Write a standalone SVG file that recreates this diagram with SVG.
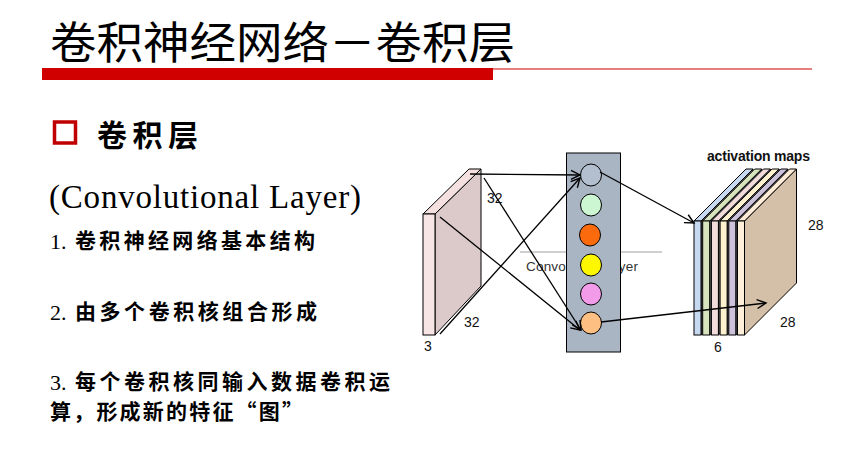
<svg xmlns="http://www.w3.org/2000/svg" width="847" height="456" viewBox="0 0 847 456">
<defs>
<style>
.cjk{font-family:"Noto Sans CJK SC","Noto Sans",sans-serif;}
.ser{font-family:"Liberation Serif","Noto Sans CJK SC",serif;}
.pt{font-family:"Noto Sans CJK SC","Noto Sans",sans-serif;font-size:21px;font-weight:bold;fill:#000;}
.num{font-family:"Liberation Serif",serif;font-size:22px;fill:#000;}
.lbl{font-family:"Liberation Sans",Arial,sans-serif;font-size:14px;fill:#111;}
.ed{stroke:#000;stroke-width:1;}
.cn{fill:none;stroke:#000;stroke-width:1.3;}
</style>
<marker id="ah" markerWidth="12" markerHeight="12" refX="10" refY="5" orient="auto" markerUnits="userSpaceOnUse" viewBox="0 0 12 10">
<path d="M1,0.5 L10,5 L1,9.5" fill="none" stroke="#000" stroke-width="1.4"/>
</marker>
</defs>
<rect width="847" height="456" fill="#fff"/>

<g id="title">
<text class="cjk" x="50" y="59" font-size="44" textLength="465" lengthAdjust="spacingAndGlyphs" fill="#000">卷积神经网络－卷积层</text>
<rect x="42" y="68" width="451" height="12" fill="#d10000"/>
<line x1="493" y1="69" x2="812" y2="69" stroke="#d10000" stroke-width="1.2"/>
</g>

<g id="heading">
<rect x="54.5" y="122" width="21" height="21" fill="none" stroke="#c00000" stroke-width="3.5"/>
<text class="cjk" x="97" y="146" font-size="30" font-weight="bold" textLength="101" fill="#000">卷积层</text>
<text class="ser" x="49" y="208" font-size="33" textLength="312" fill="#000">(Convolutional Layer)</text>
</g>

<g id="points">
<text class="num" x="50" y="249">1.</text>
<text class="pt" x="75" y="248" textLength="240">卷积神经网络基本结构</text>
<text class="num" x="50" y="320">2.</text>
<text class="pt" x="75" y="319" textLength="242">由多个卷积核组合形成</text>
<text class="num" x="50" y="390">3.</text>
<text class="pt" x="75" y="389" textLength="315">每个卷积核同输入数据卷积运</text>
<text class="pt" x="50" y="419" textLength="253">算，形成新的特征“图”</text>
</g>

<g id="input-volume">
<polygon class="ed" points="435,214 481,169 481,286 435,335" fill="#dccaca"/>
<polygon class="ed" points="423,214 435,214 481,169 469,169" fill="#f5e0e0"/>
<rect class="ed" x="423" y="214" width="12" height="121" fill="#f7e4e4"/>
<text class="lbl" x="487" y="203">32</text>
<text class="lbl" x="464" y="327">32</text>
<text class="lbl" x="424" y="351">3</text>
</g>

<g id="conv-layer">
<line x1="520" y1="252" x2="662" y2="252" stroke="#a0a0a0" stroke-width="1"/>
<text x="526" y="271" font-family="Liberation Sans,Arial,sans-serif" font-size="13.5" textLength="112" fill="#333">Convolution Layer</text>
<rect class="ed" x="566.5" y="153" width="54" height="199" fill="#a9b5c3"/>
<ellipse class="ed" cx="591" cy="175" rx="10.5" ry="11" fill="#b3bfce"/>
<ellipse class="ed" cx="591" cy="205" rx="10.5" ry="11" fill="#ccf5d2"/>
<ellipse class="ed" cx="590" cy="235" rx="10.5" ry="11" fill="#fb6a0c"/>
<ellipse class="ed" cx="591" cy="265" rx="10.5" ry="11" fill="#fdf700"/>
<ellipse class="ed" cx="591" cy="294" rx="10.5" ry="11" fill="#f29be9"/>
<ellipse class="ed" cx="591" cy="323" rx="10.5" ry="11" fill="#fdbf82"/>
</g>

<g id="activation-maps">
<text x="707" y="161" font-family="Liberation Sans,Arial,sans-serif" font-size="14" font-weight="bold" textLength="103" fill="#111">activation maps</text>
<g>
<polygon class="ed" points="701,221 753,169 753,283 701,335" fill="#666"/>
<polygon class="ed" points="694,221 701,221 753,169 746,169" fill="#c6d9f1"/>
<rect class="ed" x="694" y="221" width="7" height="114" fill="#c6d9f1"/>
</g>
<g>
<polygon class="ed" points="709.7,221 761.7,169 761.7,283 709.7,335" fill="#666"/>
<polygon class="ed" points="702.7,221 709.7,221 761.7,169 754.7,169" fill="#d7e4bd"/>
<rect class="ed" x="702.7" y="221" width="7" height="114" fill="#d7e4bd"/>
</g>
<g>
<polygon class="ed" points="718.4,221 770.4,169 770.4,283 718.4,335" fill="#666"/>
<polygon class="ed" points="711.4,221 718.4,221 770.4,169 763.4,169" fill="#f2dcdb"/>
<rect class="ed" x="711.4" y="221" width="7" height="114" fill="#f2dcdb"/>
</g>
<g>
<polygon class="ed" points="727.1,221 779.1,169 779.1,283 727.1,335" fill="#666"/>
<polygon class="ed" points="720.1,221 727.1,221 779.1,169 772.1,169" fill="#fdf1cf"/>
<rect class="ed" x="720.1" y="221" width="7" height="114" fill="#fdf1cf"/>
</g>
<g>
<polygon class="ed" points="735.8,221 787.8,169 787.8,283 735.8,335" fill="#666"/>
<polygon class="ed" points="728.8,221 735.8,221 787.8,169 780.8,169" fill="#cdc2dc"/>
<rect class="ed" x="728.8" y="221" width="7" height="114" fill="#cdc2dc"/>
</g>
<g>
<polygon class="ed" points="744.5,221 796.5,169 796.5,283 744.5,335" fill="#d4c0a8"/>
<polygon class="ed" points="737.5,221 744.5,221 796.5,169 789.5,169" fill="#fdebd5"/>
<rect class="ed" x="737.5" y="221" width="7" height="114" fill="#fdefd9"/>
</g>
<text class="lbl" x="808" y="230">28</text>
<text class="lbl" x="780" y="327">28</text>
<text class="lbl" x="714" y="352">6</text>
</g>

<g id="connectors">
<line class="cn" x1="470" y1="174" x2="580" y2="175" marker-end="url(#ah)"/>
<line class="cn" x1="484" y1="178" x2="581" y2="330" marker-end="url(#ah)"/>
<line class="cn" x1="440" y1="217" x2="580" y2="330" marker-end="url(#ah)"/>
<line class="cn" x1="440" y1="334" x2="580" y2="178" marker-end="url(#ah)"/>
<line class="cn" x1="600" y1="172" x2="694" y2="223" marker-end="url(#ah)"/>
<line class="cn" x1="601" y1="322" x2="766" y2="303" marker-end="url(#ah)"/>
</g>
</svg>
